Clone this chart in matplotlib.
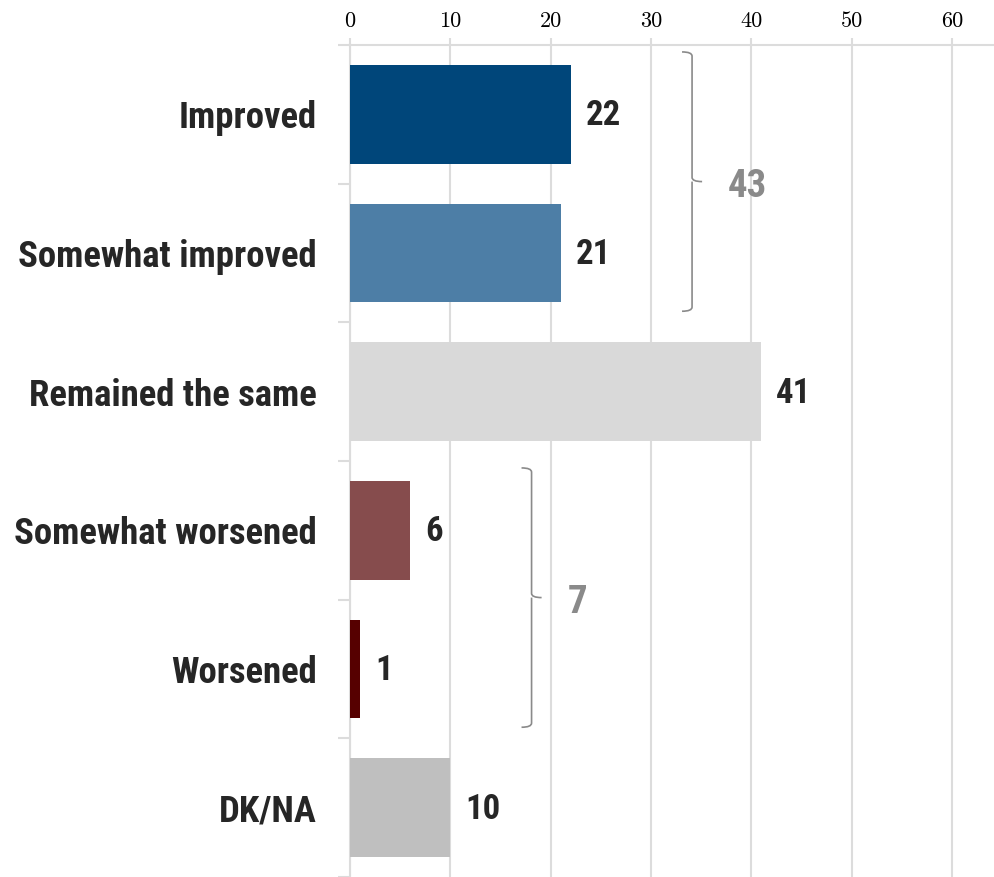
import numpy as np
import matplotlib.pyplot as plt
from matplotlib.path import Path
from matplotlib.patches import PathPatch

categories = ["Improved", "Somewhat improved", "Remained the same",
              "Somewhat worsened", "Worsened", "DK/NA"]
values = [22, 21, 41, 6, 1, 10]
colors = ["#00467a", "#4d7ea6", "#d9d9d9", "#864c4d", "#560000", "#bfbfbf"]
# groups summed by a bracket: (first index, last index, total)
groups = [(0, 1, 43), (3, 4, 7)]
xticks = [0, 10, 20, 30, 40, 50, 60]

label_font = ["Liberation Sans Narrow", "Roboto Condensed", "DejaVu Sans"]
grid_col = "#dcdcdc"

fig = plt.figure(figsize=(9.94, 8.77), dpi=100)
ax = fig.add_axes([350 / 994, 0.0, 1 - 350 / 994, 1 - 45 / 877])

y = np.arange(len(categories))
ax.barh(y, values, height=0.71, color=colors, zorder=3)

for yi, v in zip(y, values):
    ax.text(v + 1.5, yi + 0.01, str(v), ha="left", va="center", fontsize=25,
            fontweight="bold", color="#262626", family=label_font, zorder=4)


def brace(ax, x, y0, y1, w=1.0):
    # "}" bracket: small hooks at the ends, a point in the middle
    ym = (y0 + y1) / 2
    r = 0.03
    verts = [(x - w, y0), (x, y0), (x, y0 + r),
             (x, ym - r), (x, ym), (x + w, ym),
             (x, ym), (x, ym + r),
             (x, y1 - r), (x, y1), (x - w, y1)]
    codes = [Path.MOVETO, Path.CURVE3, Path.CURVE3,
             Path.LINETO, Path.CURVE3, Path.LINETO,
             Path.MOVETO, Path.CURVE3,
             Path.LINETO, Path.CURVE3, Path.CURVE3]
    ax.add_patch(PathPatch(Path(verts, codes), fill=False, edgecolor="#8a8a8a",
                           lw=1.2, zorder=4, clip_on=False))


for i0, i1, tot in groups:
    top = max(values[i0:i1 + 1])
    bx = top + 12.1
    brace(ax, bx, i0 - 0.45, i1 + 0.42)
    ax.text(bx + 3.6, (i0 + i1) / 2 + 0.02, str(tot), ha="left", va="center",
            fontsize=28, fontweight="bold", color="#8a8a8a", family=label_font,
            zorder=4)

ax.set_xlim(0, 64.2)
ax.set_ylim(len(categories) - 0.5, -0.5)

ax.xaxis.tick_top()
ax.set_xticks(xticks)
ax.set_xticklabels([str(t) for t in xticks], family="cmr10", fontsize=16)
ax.tick_params(axis="x", length=5, width=1.5, color=grid_col, pad=5)
ax.grid(axis="x", color=grid_col, lw=1.5, zorder=0)

ax.set_yticks(y)
ax.set_yticklabels(categories, fontsize=26.5, fontweight="bold",
                   color="#262626", family=label_font)
ax.tick_params(axis="y", which="major", length=0, pad=24)
ax.set_yticks(np.arange(-0.5, len(categories) + 0.5, 1), minor=True)
ax.tick_params(axis="y", which="minor", length=9, width=1.5, color=grid_col)

for s in ["right", "bottom"]:
    ax.spines[s].set_visible(False)
for s in ["left", "top"]:
    ax.spines[s].set_color(grid_col)
    ax.spines[s].set_linewidth(1.5)

fig.savefig("out.png", dpi=100)
